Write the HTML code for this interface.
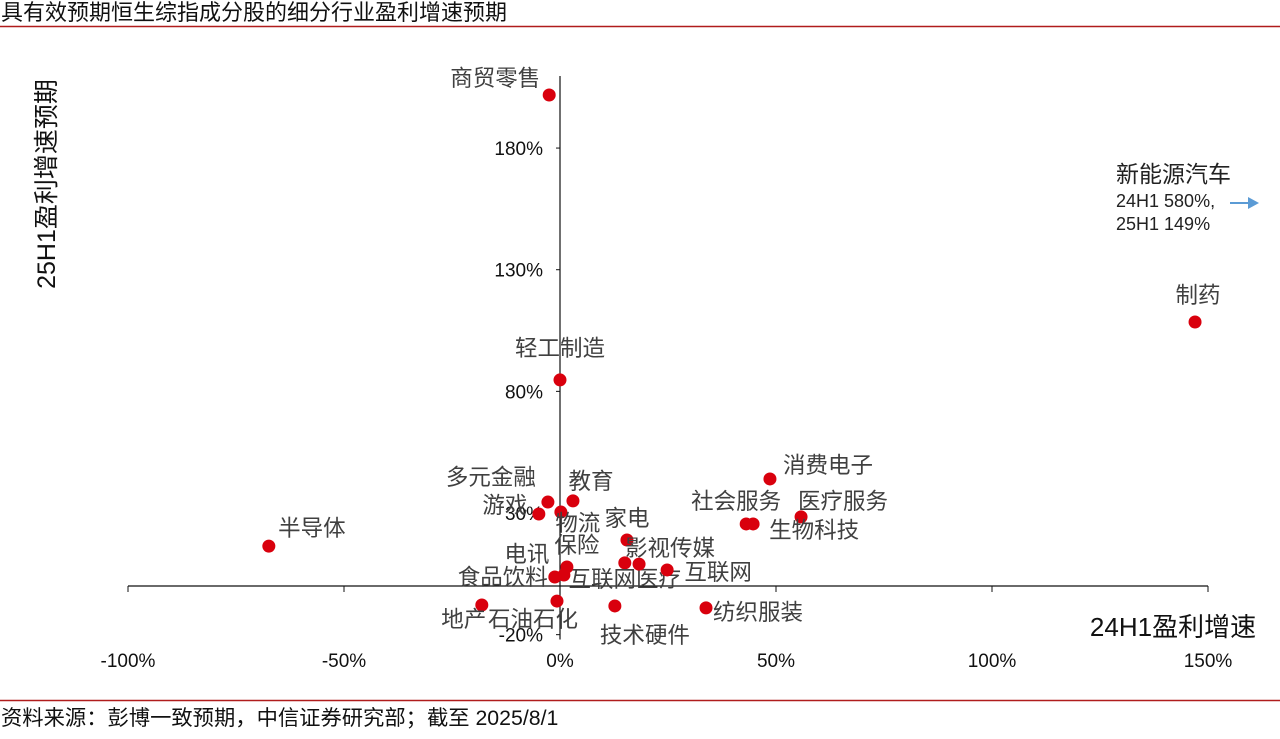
<!DOCTYPE html>
<html><head><meta charset="utf-8">
<style>
body{margin:0;background:#fff;width:1280px;height:734px;overflow:hidden;font-family:"Liberation Sans","Noto Sans CJK SC",sans-serif;}
svg text{font-family:"Liberation Sans","Noto Sans CJK SC",sans-serif;}
</style></head><body>
<svg width="1280" height="734">
<text x="1" y="20" font-size="22" fill="#111">具有效预期恒生综指成分股的细分行业盈利增速预期</text>
<line x1="0" y1="26.5" x2="1280" y2="26.5" stroke="#b01c1c" stroke-width="1.5"/>
<line x1="0" y1="700.5" x2="1280" y2="700.5" stroke="#b01c1c" stroke-width="1.5"/>
<text x="1" y="725" font-size="21.3" fill="#111">资料来源：彭博一致预期，中信证券研究部；截至 2025/8/1</text>
<g id="axes"></g>
<g id="marks"></g>
<text transform="translate(55,184) rotate(-90)" text-anchor="middle" font-size="25" fill="#111">25H1盈利增速预期</text>
<text x="1173" y="636" text-anchor="middle" font-size="26" fill="#111">24H1盈利增速</text>
<g>
<text x="1116" y="182" font-size="23" fill="#222">新能源汽车</text>
<text x="1116" y="207" font-size="18" fill="#222">24H1 580%,</text>
<text x="1116" y="230" font-size="18" fill="#222">25H1 149%</text>
<line x1="1230" y1="203" x2="1250" y2="203" stroke="#5b9bd5" stroke-width="2"/>
<polygon points="1248,197 1259,203 1248,209" fill="#5b9bd5"/>
</g>
</svg>
<script>
const names=["商贸零售","轻工制造","制药","消费电子","医疗服务","社会服务","生物科技","半导体","多元金融","教育","游戏","物流","家电","互联网医疗","影视传媒","互联网","保险","电讯","食品饮料","石油石化","地产","技术硬件","纺织服装"];
const xVals=[-2.5,0,147,48.6,55.8,43.1,44.7,-67.4,-2.8,3,-4.9,0.2,15.5,15,18.3,24.8,1.6,0.9,-1.2,-0.7,-18.1,12.7,33.8];
const yVals=[201.8,84.7,108.5,44,28.4,25.5,25.5,16.4,34.5,35,29.6,30.4,18.9,9.5,9,6.6,7.8,4.5,3.7,-6.2,-7.8,-8.2,-9];
const xTicks=[-100,-50,0,50,100,150];
const yTicks=[-20,30,80,130,180];
const labelDx=[-54,0,3,58,42,-10,61,43,-57,18,-34,17,0,0,31,51,10,-37,-52,-24,-18,30,52];
const labelDy=[-17,-32,-27,-14,-16,-23,6,-18,-25,-20,-9,11,-22,16,-16,2,-22,-21,0,18,14,29,4];
const X=v=>560+v*4.32, Y=v=>586-v*2.433;
const NS="http://www.w3.org/2000/svg";
function mk(t,a,p){const e=document.createElementNS(NS,t);for(const k in a)e.setAttribute(k,a[k]);p.appendChild(e);return e;}
const ax=document.getElementById('axes');
let l=mk('line',{x1:X(-100),y1:Y(0),x2:X(150),y2:Y(0),stroke:'#111','stroke-width':1.2},ax);


l=mk('line',{x1:X(0),y1:76,x2:X(0),y2:Y(-22),stroke:'#111','stroke-width':1.2},ax);


xTicks.forEach(t=>{
 const tk=mk('line',{x1:X(t),y1:Y(0),x2:X(t),y2:Y(0)+6,stroke:'#111'},ax);
 
 
 const tx=mk('text',{x:X(t),y:667,'text-anchor':'middle','font-size':19,fill:'#111'},ax);
 tx.textContent=t+'%';
 
 
});
yTicks.forEach(t=>{
 const tk=mk('line',{x1:X(0)-4,y1:Y(t),x2:X(0),y2:Y(t),stroke:'#111'},ax);
 
 
 const tx=mk('text',{x:X(0)-17,y:Y(t)+7,'text-anchor':'end','font-size':19,fill:'#111'},ax);
 tx.textContent=t+'%';
 
 
});
const mg=document.getElementById('marks');
names.forEach((n,i)=>{
 const c=mk('circle',{cx:X(xVals[i]),cy:Y(yVals[i]),r:6.5,fill:'#d9000d'},mg);
 
 
 const t=mk('text',{x:X(xVals[i])+labelDx[i],y:Y(yVals[i])+labelDy[i]+8,'text-anchor':'middle','font-size':22.5,fill:'#404040'},mg);
 t.textContent=n;
 
 
});
</script>
</body></html>
